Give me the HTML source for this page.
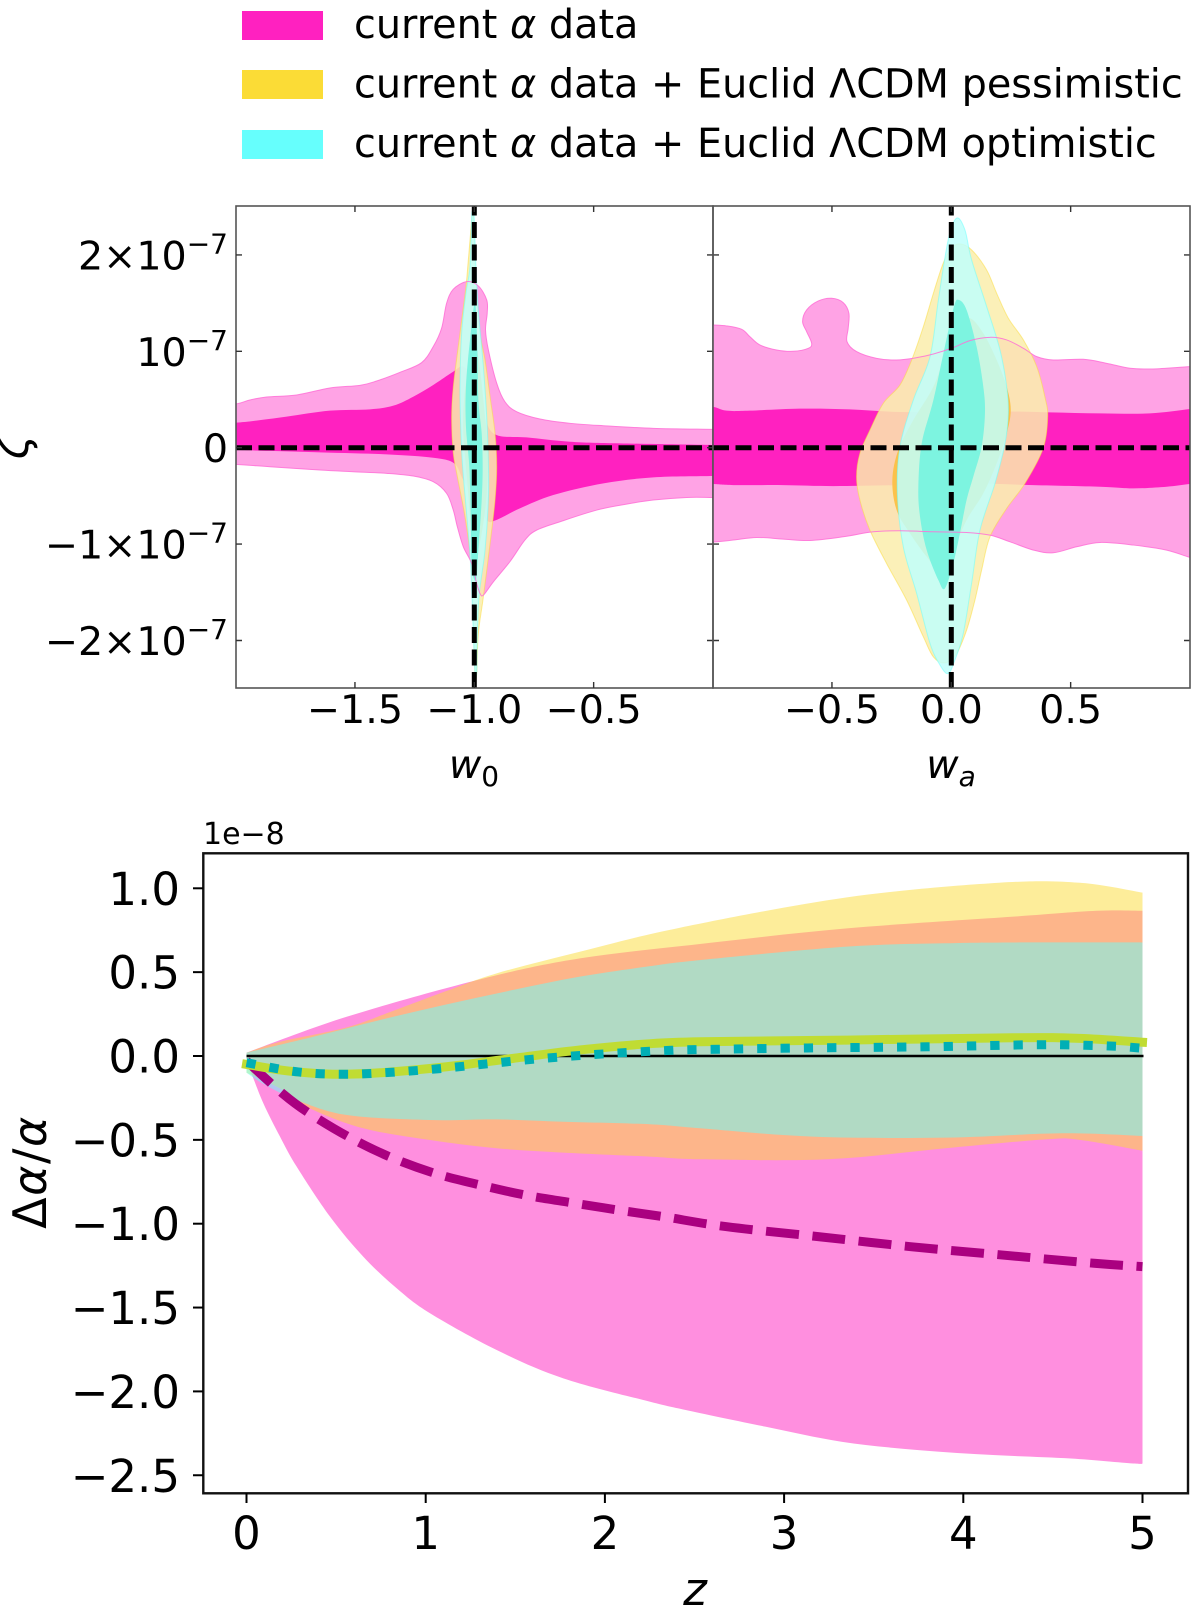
<!DOCTYPE html>
<html lang="en">
<head>
<meta charset="utf-8">
<title>Delta alpha constraints</title>
<style>
html,body{margin:0;padding:0;background:#fff;}
svg{display:block;font-family:"DejaVu Sans","Liberation Sans",sans-serif;fill:#000;}
</style>
</head>
<body>
<svg id="figure" xmlns="http://www.w3.org/2000/svg" width="1200" height="1606" viewBox="0 0 1200 1606">
  <defs>
    <clipPath id="clip-w0"><rect x="236" y="206" width="477" height="482"/></clipPath>
    <clipPath id="clip-wa"><rect x="713" y="206" width="477" height="482"/></clipPath>
    <clipPath id="clip-z"><rect x="203" y="853" width="985" height="640"/></clipPath>
  </defs>
  <g>
    <rect x="242" y="11" width="81" height="29" fill="#ff21c0"/>
    <rect x="242" y="70" width="81" height="29" fill="#fbdc36"/>
    <rect x="242" y="130" width="81" height="29" fill="#66fffd"/>
    <text x="354" y="38" font-size="39.75">current <tspan font-style="italic">α</tspan> data</text>
    <text x="354" y="97.5" font-size="39.75">current <tspan font-style="italic">α</tspan> data + Euclid ΛCDM pessimistic</text>
    <text x="354" y="157" font-size="39.75">current <tspan font-style="italic">α</tspan> data + Euclid ΛCDM optimistic</text>
  </g>
  <g id="panel-w0"></g>
  <g id="panel-wa"></g>
  <g id="panel-z"></g>
</svg>
<script>
// ---- top panels: tick values (zeta in units of 1e-7) ----
const zetaTicks=[2,1,0,-1,-2];
const zetaTickPrefix=["2×10","10","0","−1×10","−2×10"];
const zetaTickExponent=["−7","−7","","−7","−7"];
const w0Ticks=[-1.5,-1.0,-0.5];
const w0TickLabels=["−1.5","−1.0","−0.5"];
const waTicks=[-0.5,0,0.5];
const waTickLabels=["−0.5","0.0","0.5"];

// ---- w0 - zeta contours ----
const w0Pink2W=[-2.1,-1.999,-1.94,-1.87,-1.744,-1.605,-1.479,-1.409,-1.311,-1.221,-1.172,-1.137,-1.116,-1.088,-1.032,-.983,-.948,-.946,-.953,-.941,-.906,-.872,-.823,-.725,-.599,-.459,-.25,0,.1,.1,0,-.11,-.25,-.362,-.487,-.641,-.739,-.788,-.851,-.92,-.962,-.976,-.99,-1.011,-1.046,-1.071,-1.088,-1.116,-1.172,-1.256,-1.367,-1.507,-1.647,-1.856,-1.999,-2.1];
const w0Pink2Zeta=[.44,.453,.495,.526,.547,.619,.647,.692,.782,.882,1.048,1.239,1.498,1.644,1.723,1.678,1.533,1.394,1.221,1.014,.668,.478,.374,.298,.253,.228,.201,.19,.185,-.516,-.516,-.516,-.543,-.585,-.647,-.768,-.855,-.958,-1.183,-1.391,-1.529,-1.512,-1.408,-1.201,-1.028,-.82,-.647,-.474,-.353,-.294,-.266,-.249,-.232,-.197,-.173,-.165];
const w0Pink1W=[-2.1,-1.999,-1.926,-1.786,-1.605,-1.437,-1.339,-1.256,-1.172,-1.088,-1.046,-1.004,-.962,-.913,-.781,-.599,-.39,0,.1,.1,0,-.25,-.459,-.669,-.809,-.909,-.948,-.99,-1.046,-1.084,-1.172,-1.367,-1.647,-1.999,-2.1];
const w0Pink1Zeta=[.25,.26,.277,.322,.384,.398,.436,.529,.651,.789,.841,.702,.356,.138,.107,.062,.045,.028,.025,-.29,-.294,-.308,-.37,-.491,-.63,-.751,-.751,-.543,-.336,-.163,-.104,-.069,-.048,-.024,-.02];
const w0Yellow2W=[-1.007,-1.001,-.993,-.976,-.955,-.932,-.913,-.906,-.913,-.932,-.962,-.983,-.99,-.997,-1.007,-1.015,-1.039,-1.071,-1.088,-1.095,-1.088,-1.06,-1.035,-1.025];
const w0Yellow2Zeta=[2.433,2.225,1.706,1.187,.91,.495,.149,-.197,-.543,-.958,-1.547,-1.927,-2.343,-2.343,-1.581,-1.166,-.716,-.301,-.059,.287,.633,1.187,1.671,1.948];
const w0Yellow1W=[-1.001,-.983,-.962,-.944,-.948,-.969,-.993,-1.011,-1.029,-1.046,-1.043,-1.025];
const w0Yellow1Zeta=[1.118,.945,.495,-.024,-.474,-.889,-1.097,-.889,-.37,.149,.495,.841];
const w0Cyan2W=[-1.007,-1.001,-.993,-.983,-.962,-.948,-.941,-.941,-.955,-.979,-.987,-.99,-.997,-1.004,-1.015,-1.025,-1.049,-1.057,-1.06,-1.053,-1.035,-1.018,-1.011];
const w0Cyan2Zeta=[2.433,2.398,1.879,1.429,.841,.322,-.128,-.543,-1.062,-1.512,-1.927,-2.343,-2.343,-1.927,-1.235,-.889,-.197,.218,.633,1.187,1.602,1.879,2.398];
const w0Cyan1W=[-.997,-.987,-.983,-.969,-.965,-.969,-.983,-.993,-1.011,-1.015,-1.021,-1.035,-1.035,-1.018];
const w0Cyan1Zeta=[1.498,1.014,.495,.149,-.197,-.543,-1.062,-1.374,-1.235,-.716,-.197,.218,.633,1.118];

// ---- wa - zeta contours ----
const waPink2A=[-1.1,-1,-.941,-.878,-.844,-.802,-.732,-.662,-.599,-.585,-.606,-.623,-.606,-.557,-.501,-.453,-.429,-.432,-.437,-.397,-.313,-.229,-.145,-.075,.008,.078,.162,.232,.302,.358,.427,.553,.651,.749,.846,1,1.1,1.1,1,.902,.763,.623,.525,.427,.344,.246,.162,.064,-.075,-.215,-.327,-.453,-.592,-.704,-.816,-.913,-1,-1.1];
const waPink2Zeta=[1.28,1.273,1.263,1.228,1.152,1.066,1.014,1,1.031,1.083,1.204,1.308,1.429,1.522,1.55,1.505,1.394,1.239,1.1,.997,.927,.91,.934,.972,1.038,1.111,1.145,1.118,1.031,.945,.91,.917,.875,.824,.817,.841,.85,-1.2,-1.138,-1.062,-1.01,-.983,-1.028,-1.09,-1.062,-.976,-.907,-.879,-.872,-.862,-.872,-.924,-.962,-.948,-.931,-.958,-.979,-.99];
const waPink1A=[-1.1,-1,-.941,-.844,-.634,-.425,-.215,-.006,.204,.413,.623,.832,1,1.1,1.1,1,.902,.763,.623,.344,.064,-.215,-.494,-.704,-.913,-1,-1.1];
const waPink1Zeta=[.46,.426,.384,.384,.405,.398,.37,.37,.377,.367,.356,.356,.401,.43,-.36,-.377,-.405,-.422,-.405,-.388,-.37,-.388,-.398,-.388,-.388,-.377,-.37];
const waYellow2A=[.036,.085,.148,.19,.239,.302,.358,.392,.404,.385,.309,.232,.162,.127,.099,.064,.022,-.027,-.075,-.117,-.187,-.271,-.341,-.383,-.397,-.383,-.341,-.285,-.215,-.166,-.117,-.075,-.034,.001];
const waYellow2Zeta=[2.114,2.052,1.844,1.602,1.343,1.118,.841,.529,.322,-.007,-.37,-.63,-.924,-1.27,-1.581,-1.893,-2.135,-2.232,-2.17,-1.962,-1.581,-1.201,-.855,-.543,-.301,-.059,.183,.46,.651,.91,1.256,1.602,1.913,2.069];
const waYellow1A=[.078,.134,.19,.232,.249,.232,.19,.134,.064,.008,-.047,-.103,-.173,-.229,-.247,-.222,-.159,-.075,-.02,.029];
const waYellow1Zeta=[1.343,1.187,.91,.633,.391,.149,-.163,-.474,-.751,-1.062,-1.27,-1.131,-.889,-.647,-.336,-.024,.287,.633,1.014,1.256];
const waCyan2A=[.022,.057,.085,.148,.204,.232,.239,.225,.183,.12,.085,.05,.015,-.013,-.047,-.089,-.145,-.201,-.226,-.215,-.159,-.089,-.054,-.013];
const waCyan2Zeta=[2.381,2.26,1.948,1.464,1.014,.633,.356,.045,-.37,-.855,-1.408,-1.927,-2.204,-2.343,-2.256,-2.031,-1.512,-1.028,-.474,.01,.495,.945,1.533,2.156];
const waCyan1A=[.031,.064,.106,.134,.141,.127,.092,.064,.036,.008,-.027,-.054,-.103,-.131,-.138,-.124,-.075,-.027,.011];
const waCyan1Zeta=[1.533,1.429,1.048,.633,.356,.01,-.301,-.543,-.889,-1.201,-1.46,-1.374,-1.062,-.716,-.405,.045,.495,1.048,1.464];

// ---- bottom panel: delta alpha / alpha in units of 1e-8 ----
const zTicks=[0,1,2,3,4,5];
const zTickLabels=["0","1","2","3","4","5"];
const alphaTicks=[1,.5,0,-.5,-1,-1.5,-2,-2.5];
const alphaTickLabels=["1.0","0.5","0.0","−0.5","−1.0","−1.5","−2.0","−2.5"];

const pinkUpperZ=[0,.559,1.303,1.86,2.53,3.35,4.279,4.744,5];
const pinkUpperV=[.02,.234,.457,.582,.668,.761,.831,.866,.866];
const pinkLowerZ=[0,.02,.094,.187,.28,.466,.652,.838,1.024,1.396,1.768,2.25,2.47,2.895,3.32,3.75,4.18,4.6,4.95,5];
const pinkLowerV=[-.04,-.083,-.282,-.481,-.66,-.958,-1.197,-1.385,-1.534,-1.753,-1.922,-2.061,-2.115,-2.21,-2.3,-2.35,-2.38,-2.4,-2.43,-2.43];
const yellowUpperZ=[0,.187,.559,.82,1.117,1.396,1.86,2.419,3.35,4.2,4.65,5];
const yellowUpperV=[.02,.085,.171,.27,.388,.493,.622,.765,.946,1.033,1.033,.974];
const yellowLowerZ=[0,.187,.354,.652,1.024,1.396,1.768,2.25,2.53,3.24,3.9,4.46,4.65,5];
const yellowLowerV=[-.1,-.193,-.312,-.431,-.501,-.55,-.576,-.6,-.616,-.616,-.55,-.497,-.5,-.565];
const cyanUpperZ=[0,.373,.745,1.117,1.489,1.86,2.233,2.53,3.35,3.9,4.279,5];
const cyanUpperV=[.02,.115,.215,.308,.394,.473,.533,.572,.652,.672,.677,.677];
const cyanLowerZ=[0,.1,.28,.56,1.024,1.396,1.768,2.25,2.53,3.16,3.9,4.55,5];
const cyanLowerV=[-.1,-.17,-.262,-.352,-.382,-.378,-.392,-.407,-.431,-.481,-.487,-.461,-.477];

const meanPinkZ=[0,.205,.345,.568,.805,1.052,1.303,1.554,1.814,2.07,2.326,2.68,3.19,3.706,4.22,4.73,5];
const meanPinkV=[-.03,-.227,-.338,-.481,-.604,-.7,-.769,-.829,-.875,-.918,-.958,-1.018,-1.077,-1.137,-1.187,-1.236,-1.256];
const meanYellowZ=[0,.187,.373,.52,.745,1.117,1.489,1.86,2.233,2.53,3.35,4.279,4.65,5];
const meanYellowV=[-.05,-.083,-.103,-.109,-.1,-.064,-.014,.036,.072,.085,.095,.109,.105,.082];
const meanCyanZ=[0,.289,.55,.81,1.07,1.33,1.59,1.85,2.11,2.37,2.5,3.13,3.8,4.33,4.59,4.85,5];
const meanCyanV=[-.04,-.095,-.109,-.097,-.076,-.048,-.02,.002,.02,.034,.038,.048,.055,.066,.066,.058,.046];

// ---- axis functions ----
const xW0=w=>474.3+238.7*(w+1);
const xWa=a=>951.3+238.7*a;
const yZeta=v=>447.7-96.4*v;
const xZ=z=>246.5+179.2*z;
const yAlpha=v=>1056-167.7*v;

const NS='http://www.w3.org/2000/svg';
function make(parent,tag,attrs){
  const node=document.createElementNS(NS,tag);
  for(const k in attrs){node.setAttribute(k,attrs[k]);}
  parent.appendChild(node);
  return node;
}
function smooth(pts,closed){
  const n=pts.length;
  const at=i=>closed?pts[(i+n)%n]:pts[Math.max(0,Math.min(n-1,i))];
  let d='M'+pts[0][0].toFixed(2)+' '+pts[0][1].toFixed(2);
  const last=closed?n:n-1;
  for(let i=0;i<last;i++){
    const p0=at(i-1),p1=at(i),p2=at(i+1),p3=at(i+2);
    const c1x=p1[0]+(p2[0]-p0[0])/6,c1y=p1[1]+(p2[1]-p0[1])/6;
    const c2x=p2[0]-(p3[0]-p1[0])/6,c2y=p2[1]-(p3[1]-p1[1])/6;
    d+='C'+c1x.toFixed(2)+' '+c1y.toFixed(2)+' '+c2x.toFixed(2)+' '+c2y.toFixed(2)+' '+p2[0].toFixed(2)+' '+p2[1].toFixed(2);
  }
  return closed?d+'Z':d;
}
function contourPath(xs,ys,xf){
  return smooth(xs.map((x,i)=>[xf(x),yZeta(ys[i])]),true);
}
function curvePts(zs,vs){
  return zs.map((z,i)=>[xZ(z),yAlpha(vs[i])]);
}
function bandPath(uz,uv,lz,lv){
  const up=smooth(curvePts(uz,uv),false);
  const low=smooth(curvePts(lz,lv).reverse(),false);
  return up+'L'+low.slice(1)+'Z';
}

const STYLE={
  pink2:{fill:'#ffa3e5'},
  pink1:{fill:'#ff21c0'},
  yellow2:{fill:'rgb(250,238,172)','fill-opacity':.856,stroke:'#fbdc36','stroke-opacity':.5,'stroke-width':1},
  yellow1:{fill:'#fbc046','fill-opacity':.95},
  cyan2:{fill:'rgb(191,255,252)','fill-opacity':.85,stroke:'#66fffd','stroke-opacity':.5,'stroke-width':1},
  cyan1:{fill:'#7af4e0','fill-opacity':.96}
};

// ---- w0 panel ----
const gW0=document.getElementById('panel-w0');
const gWa=document.getElementById('panel-wa');
const gZ=document.getElementById('panel-z');
const cW0=make(gW0,'g',{'clip-path':'url(#clip-w0)'});


const cWa=make(gWa,'g',{'clip-path':'url(#clip-wa)'});



let el;
el=make(cW0,'path',Object.assign({d:contourPath(w0Pink2W,w0Pink2Zeta,xW0)},STYLE.pink2));


el=make(cW0,'path',Object.assign({d:contourPath(w0Pink1W,w0Pink1Zeta,xW0)},STYLE.pink1));


el=make(cW0,'path',Object.assign({d:contourPath(w0Yellow2W,w0Yellow2Zeta,xW0)},STYLE.yellow2));


el=make(cW0,'path',Object.assign({d:contourPath(w0Yellow1W,w0Yellow1Zeta,xW0)},STYLE.yellow1));


el=make(cW0,'path',Object.assign({d:contourPath(w0Cyan2W,w0Cyan2Zeta,xW0)},STYLE.cyan2));


el=make(cW0,'path',Object.assign({d:contourPath(w0Cyan1W,w0Cyan1Zeta,xW0)},STYLE.cyan1));


el=make(cW0,'path',{d:contourPath(w0Pink2W,w0Pink2Zeta,xW0),fill:'none',stroke:'#ff6fd6','stroke-width':1,'stroke-opacity':.85});



// ---- wa panel ----
el=make(cWa,'path',Object.assign({d:contourPath(waPink2A,waPink2Zeta,xWa)},STYLE.pink2));


el=make(cWa,'path',Object.assign({d:contourPath(waPink1A,waPink1Zeta,xWa)},STYLE.pink1));


el=make(cWa,'path',Object.assign({d:contourPath(waYellow2A,waYellow2Zeta,xWa)},STYLE.yellow2));


el=make(cWa,'path',Object.assign({d:contourPath(waYellow1A,waYellow1Zeta,xWa)},STYLE.yellow1));


el=make(cWa,'path',Object.assign({d:contourPath(waCyan2A,waCyan2Zeta,xWa)},STYLE.cyan2));


el=make(cWa,'path',Object.assign({d:contourPath(waCyan1A,waCyan1Zeta,xWa)},STYLE.cyan1));


el=make(cWa,'path',{d:contourPath(waPink2A,waPink2Zeta,xWa),fill:'none',stroke:'#ff6fd6','stroke-width':1,'stroke-opacity':.85});



// reference dashed lines
const DASH={stroke:'#000','stroke-width':5,'stroke-dasharray':'16 6.5',fill:'none'};
el=make(cW0,'line',Object.assign({x1:236,x2:713,y1:yZeta(0),y2:yZeta(0)},DASH));


el=make(cW0,'line',Object.assign({x1:xW0(-1),x2:xW0(-1),y1:688,y2:206},DASH));


el=make(cWa,'line',Object.assign({x1:713,x2:1190,y1:yZeta(0),y2:yZeta(0)},DASH));


el=make(cWa,'line',Object.assign({x1:xWa(0),x2:xWa(0),y1:688,y2:206},DASH));



// top panel frames
el=make(gW0,'rect',{x:236,y:206,width:477,height:482,fill:'none',stroke:'#555','stroke-width':1.6});


el=make(gWa,'rect',{x:713,y:206,width:477,height:482,fill:'none',stroke:'#555','stroke-width':1.6});



// zeta ticks + labels
zetaTicks.forEach((v,i)=>{
  const y=yZeta(v);
  const t1=make(gW0,'path',{d:'M236 '+y+'H242M713 '+y+'H707M713 '+y+'H719M1190 '+y+'H1184',stroke:'#333','stroke-width':1.4,fill:'none'});
  
  
  const lab=make(gW0,'text',{x:228,y:y+14.5,'font-size':39.6,'text-anchor':'end'});
  
  
  const a=make(lab,'tspan',{});
  a.textContent=zetaTickPrefix[i];
  if(zetaTickExponent[i]){
    const b=make(lab,'tspan',{dy:-16,'font-size':28});
    b.textContent=zetaTickExponent[i];
  }
});
w0Ticks.forEach((w,i)=>{
  const x=xW0(w);
  const t=make(gW0,'path',{d:'M'+x+' 206V212M'+x+' 688V682',stroke:'#333','stroke-width':1.4,fill:'none'});
  
  
  const lab=make(gW0,'text',{x:x,y:723,'font-size':39.6,'text-anchor':'middle'});
  lab.textContent=w0TickLabels[i];
  
  
});
waTicks.forEach((a,i)=>{
  const x=xWa(a);
  const t=make(gWa,'path',{d:'M'+x+' 206V212M'+x+' 688V682',stroke:'#333','stroke-width':1.4,fill:'none'});
  
  
  const lab=make(gWa,'text',{x:x,y:723,'font-size':39.6,'text-anchor':'middle'});
  lab.textContent=waTickLabels[i];
  
  
});

// top axis titles
el=make(gW0,'text',{x:474,y:778,'font-size':39.6,'font-style':'italic','text-anchor':'middle'});
el.textContent='w';


let sub=make(el,'tspan',{dy:8,'font-size':28,'font-style':'normal'});
sub.textContent='0';
el=make(gWa,'text',{x:951,y:778,'font-size':39.6,'font-style':'italic','text-anchor':'middle'});
el.textContent='w';


sub=make(el,'tspan',{dy:8,'font-size':28});
sub.textContent='a';
el=make(gW0,'text',{x:28,y:447,'font-size':45,'font-style':'italic','text-anchor':'middle',transform:'rotate(-90 28 447)'});
el.textContent='ζ';



// ---- bottom panel ----
const cZ=make(gZ,'g',{'clip-path':'url(#clip-z)'});


el=make(cZ,'path',{d:bandPath(pinkUpperZ,pinkUpperV,pinkLowerZ,pinkLowerV),fill:'#ff20c0','fill-opacity':.5});


el=make(cZ,'path',{d:bandPath(yellowUpperZ,yellowUpperV,yellowLowerZ,yellowLowerV),fill:'#fbdc36','fill-opacity':.5});


el=make(cZ,'path',{d:bandPath(cyanUpperZ,cyanUpperV,cyanLowerZ,cyanLowerV),fill:'#66fffd','fill-opacity':.5});


el=make(cZ,'line',{x1:xZ(0),x2:xZ(5)+1,y1:yAlpha(0),y2:yAlpha(0),stroke:'#000','stroke-width':2.6});


el=make(cZ,'path',{d:smooth(curvePts(meanPinkZ,meanPinkV),false),fill:'none',stroke:'#aa0080','stroke-width':9,'stroke-dasharray':'33 13.5'});


el=make(cZ,'path',{d:smooth(curvePts(meanYellowZ,meanYellowV),false),fill:'none',stroke:'#c0dc33','stroke-width':9,'stroke-linecap':'square'});


el=make(cZ,'path',{d:smooth(curvePts(meanCyanZ,meanCyanV),false),fill:'none',stroke:'#00afb5','stroke-width':9,'stroke-dasharray':'9.3 14'});



el=make(gZ,'rect',{x:203.3,y:853.3,width:984.7,height:640,fill:'none',stroke:'#111','stroke-width':2.4});



alphaTicks.forEach((v,i)=>{
  const y=yAlpha(v);
  const t=make(gZ,'line',{x1:193,x2:203,y1:y,y2:y,stroke:'#000','stroke-width':2});
  
  
  const lab=make(gZ,'text',{x:180,y:y+16.5,'font-size':45,'text-anchor':'end'});
  lab.textContent=alphaTickLabels[i];
  
  
});
zTicks.forEach((z,i)=>{
  const x=xZ(z);
  const t=make(gZ,'line',{x1:x,x2:x,y1:1493,y2:1503,stroke:'#000','stroke-width':2});
  
  
  const lab=make(gZ,'text',{x:x,y:1549,'font-size':45,'text-anchor':'middle'});
  lab.textContent=zTickLabels[i];
  
  
});

el=make(gZ,'text',{x:695,y:1605,'font-size':45,'font-style':'italic','text-anchor':'middle'});
el.textContent='z';


el=make(gZ,'text',{x:46,y:1172,'font-size':46,'letter-spacing':'1.5','text-anchor':'middle',transform:'rotate(-90 46 1172)'});


el.innerHTML='Δ<tspan font-style="italic">α</tspan>/<tspan font-style="italic">α</tspan>';
el=make(gZ,'text',{x:203,y:844,'font-size':30});
el.textContent='1e−8';


</script>
</body>
</html>
